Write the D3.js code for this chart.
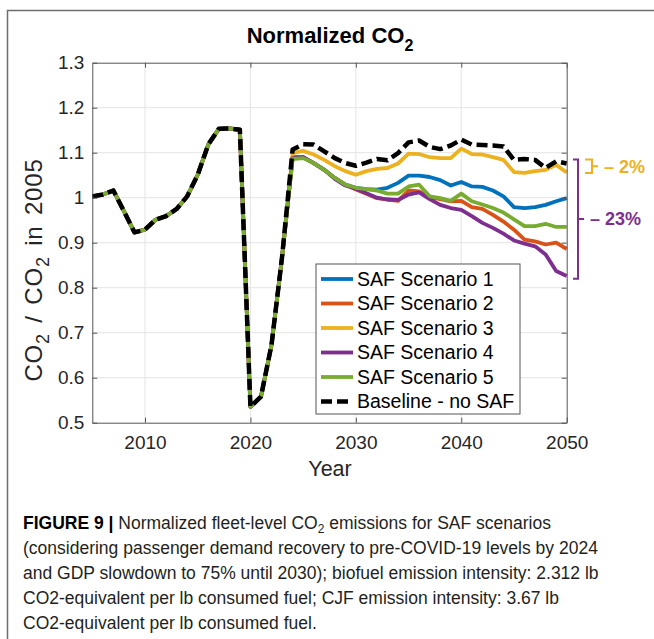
<!DOCTYPE html>
<html>
<head>
<meta charset="utf-8">
<script src="https://cdn.jsdelivr.net/npm/d3@7"></script>
<style>
  body { margin: 0; background: #fff; }
  svg { display: block; }
  text { font-family: "Liberation Sans", Arial, Helvetica, sans-serif; }
</style>
</head>
<body>
<svg width="654" height="639"></svg>
<script>
// shared history 2005-2023, identical for every scenario
const histYears = [2005, 2006, 2007, 2008, 2009, 2010, 2011, 2012, 2013, 2014,
  2015, 2016, 2017, 2018, 2019, 2020, 2021, 2022, 2023];
const history = [1.003, 1.007, 1.016, 0.970, 0.923, 0.929, 0.951, 0.959, 0.975, 1.003,
  1.051, 1.118, 1.153, 1.154, 1.151, 0.535, 0.558, 0.673, 0.868];

// projections 2024-2050
const projYears = [2024, 2025, 2026, 2027, 2028, 2029, 2030, 2031, 2032, 2033,
  2034, 2035, 2036, 2037, 2038, 2039, 2040, 2041, 2042, 2043,
  2044, 2045, 2046, 2047, 2048, 2049, 2050];
const scenario1 = [1.090, 1.090, 1.077, 1.062, 1.044, 1.029, 1.022, 1.019, 1.018, 1.022,
  1.033, 1.049, 1.049, 1.046, 1.039, 1.027, 1.035, 1.025, 1.024, 1.016,
  1.003, 0.979, 0.977, 0.979, 0.984, 0.992, 0.999];
const scenario2 = [1.090, 1.090, 1.077, 1.062, 1.044, 1.029, 1.018, 1.009, 0.999, 0.996,
  0.993, 1.016, 1.014, 1.001, 0.997, 0.992, 0.993, 0.979, 0.975, 0.962,
  0.947, 0.929, 0.907, 0.903, 0.896, 0.900, 0.886];
const scenario3 = [1.099, 1.104, 1.096, 1.084, 1.070, 1.059, 1.051, 1.059, 1.064, 1.066,
  1.076, 1.098, 1.097, 1.090, 1.088, 1.088, 1.109, 1.097, 1.096, 1.090,
  1.084, 1.057, 1.055, 1.059, 1.062, 1.073, 1.056];
const scenario4 = [1.088, 1.090, 1.077, 1.062, 1.042, 1.027, 1.020, 1.010, 1.000, 0.996,
  0.995, 1.007, 1.012, 0.997, 0.984, 0.977, 0.973, 0.959, 0.944, 0.933,
  0.920, 0.905, 0.898, 0.892, 0.874, 0.837, 0.826];
const scenario5 = [1.086, 1.088, 1.077, 1.062, 1.044, 1.029, 1.022, 1.019, 1.016, 1.009,
  1.009, 1.025, 1.029, 1.003, 0.999, 0.993, 1.009, 0.992, 0.985, 0.977,
  0.967, 0.952, 0.937, 0.937, 0.942, 0.935, 0.935];
const baseline = [1.107, 1.119, 1.118, 1.103, 1.088, 1.077, 1.071, 1.078, 1.086, 1.083,
  1.099, 1.123, 1.127, 1.113, 1.108, 1.116, 1.129, 1.118, 1.117, 1.116,
  1.114, 1.084, 1.086, 1.084, 1.066, 1.081, 1.076];

const seriesNames = ['SAF Scenario 1', 'SAF Scenario 2', 'SAF Scenario 3',
  'SAF Scenario 4', 'SAF Scenario 5', 'Baseline - no SAF'];
const seriesValues = [scenario1, scenario2, scenario3, scenario4, scenario5, baseline];
const seriesColors = ['#0072BD', '#D95319', '#EDB120', '#7E2F8E', '#77AC30', '#000000'];

const xTicks = [2010, 2020, 2030, 2040, 2050];
const yTicks = [0.5, 0.6, 0.7, 0.8, 0.9, 1, 1.1, 1.2, 1.3];

// reductions marked at the right edge
const notes = [
  { label: '\u2013 2%', top: 1.085, bottom: 1.055, color: '#EDB120' },
  { label: '\u2013 23%', top: 1.085, bottom: 0.82, color: '#7E2F8E' }
];

const captionLines = [
  [['b', 'FIGURE 9 | '], ['n', 'Normalized fleet-level CO'], ['s', '2'], ['n', ' emissions for SAF scenarios']],
  [['n', '(considering passenger demand recovery to pre-COVID-19 levels by 2024']],
  [['n', 'and GDP slowdown to 75% until 2030); biofuel emission intensity: 2.312 lb']],
  [['n', 'CO2-equivalent per lb consumed fuel; CJF emission intensity: 3.67 lb']],
  [['n', 'CO2-equivalent per lb consumed fuel.']]
];

const svg = d3.select('svg');

const x = d3.scaleLinear().domain([2005, 2050]).range([92.3, 566.7]);
const y = d3.scaleLinear().domain([0.5, 1.3]).range([422.7, 62.7]);

// figure frame (left and top rules)
svg.append('path')
  .attr('d', 'M7.5,639 V10.5 H654')
  .attr('fill', 'none')
  .attr('stroke', '#6e6e6e')
  .attr('stroke-width', 1.5);

// grid
const grid = svg.append('g').attr('class', 'grid');
grid.selectAll('line.gy')
  .data(yTicks.slice(1, -1))
  .enter().append('line')
  .attr('x1', x(2005)).attr('x2', x(2050))
  .attr('y1', d => y(d)).attr('y2', d => y(d))
  .attr('stroke', '#e4e4e4');
grid.selectAll('line.gx')
  .data(xTicks.slice(0, -1))
  .enter().append('line')
  .attr('y1', y(0.5)).attr('y2', y(1.3))
  .attr('x1', d => x(d)).attr('x2', d => x(d))
  .attr('stroke', '#e4e4e4');

// lines
const line = d3.line().x(d => x(d[0])).y(d => y(d[1]));
const fullSeries = seriesValues.map(vals =>
  histYears.map((yr, i) => [yr, history[i]]).concat(projYears.map((yr, i) => [yr, vals[i]])));

svg.append('g')
  .selectAll('path')
  .data(fullSeries)
  .enter().append('path')
  .attr('d', line)
  .attr('fill', 'none')
  .attr('stroke', (d, i) => seriesColors[i])
  .attr('stroke-width', (d, i) => i === 5 ? 4.5 : 3.8)
  .attr('stroke-dasharray', (d, i) => i === 5 ? '11,5' : null)
  .attr('stroke-linejoin', 'round');

// axes box with inward ticks
function styleAxis(g) {
  g.select('.domain').attr('stroke', '#555');
  g.selectAll('.tick line').attr('stroke', '#555');
  g.selectAll('.tick text')
    .attr('fill', '#262626')
    .style('font-size', '19px')
    .style('font-family', '"Liberation Sans", Arial, sans-serif');
}
svg.append('g')
  .attr('transform', `translate(${x(2005)},0)`)
  .call(d3.axisLeft(y).tickValues(yTicks).tickFormat(d3.format('')).tickSizeInner(-5).tickSizeOuter(0).tickPadding(8))
  .call(styleAxis);
svg.append('g')
  .attr('transform', `translate(${x(2050)},0)`)
  .call(d3.axisRight(y).tickValues(yTicks).tickFormat('').tickSizeInner(-5).tickSizeOuter(0))
  .call(styleAxis);
svg.append('g')
  .attr('transform', `translate(0,${y(0.5)})`)
  .call(d3.axisBottom(x).tickValues(xTicks).tickFormat(d3.format('d')).tickSizeInner(-5).tickSizeOuter(0).tickPadding(13))
  .call(styleAxis);
svg.append('g')
  .attr('transform', `translate(0,${y(1.3)})`)
  .call(d3.axisTop(x).tickValues(xTicks).tickFormat('').tickSizeInner(-5).tickSizeOuter(0))
  .call(styleAxis);

// title
const title = svg.append('text')
  .attr('x', 330).attr('y', 43)
  .attr('text-anchor', 'middle')
  .attr('font-weight', 'bold')
  .attr('font-size', 22)
  .attr('fill', '#000');
title.append('tspan').text('Normalized CO');
title.append('tspan').attr('font-size', 16).attr('dy', 8).text('2');

// axis labels
svg.append('text')
  .attr('x', 330).attr('y', 476)
  .attr('text-anchor', 'middle')
  .attr('font-size', 21.5)
  .attr('fill', '#262626')
  .text('Year');

const yLab = svg.append('text')
  .attr('transform', 'translate(42,270) rotate(-90)')
  .attr('text-anchor', 'middle')
  .attr('font-size', 24)
  .attr('letter-spacing', 0.8)
  .attr('word-spacing', 3)
  .attr('fill', '#262626');
yLab.append('tspan').text('CO');
yLab.append('tspan').attr('font-size', 18).attr('dy', 7).text('2');
yLab.append('tspan').attr('dy', -7).text(' / CO');
yLab.append('tspan').attr('font-size', 18).attr('dy', 7).text('2');
yLab.append('tspan').attr('dy', -7).text(' in 2005');

// legend
const legend = svg.append('g').attr('transform', 'translate(316,264)');
legend.append('rect')
  .attr('width', 204).attr('height', 150)
  .attr('fill', '#fff')
  .attr('stroke', '#555');
const item = legend.selectAll('g.item')
  .data(seriesNames)
  .enter().append('g')
  .attr('class', 'item')
  .attr('transform', (d, i) => `translate(0,${15 + i * 24.5})`);
item.append('line')
  .attr('x1', 5).attr('x2', 37)
  .attr('stroke', (d, i) => seriesColors[i])
  .attr('stroke-width', (d, i) => i === 5 ? 4.5 : 3.8)
  .attr('stroke-dasharray', (d, i) => i === 5 ? '11,5' : null);
item.append('text')
  .attr('x', 41).attr('dy', '0.35em')
  .attr('font-size', 19.5)
  .attr('fill', '#000')
  .text(d => d);

// reduction brackets
const note = svg.append('g');
notes.forEach((n, i) => {
  const bx = i === 0 ? 592 : 578;
  const arm = i === 0 ? 7 : 5;
  const mid = (y(n.top) + y(n.bottom)) / 2;
  note.append('path')
    .attr('d', `M${bx - arm},${y(n.top)} H${bx} V${y(n.bottom)} H${bx - arm} M${bx},${mid} H${bx + 6}`)
    .attr('fill', 'none')
    .attr('stroke', n.color)
    .attr('stroke-width', 2);
  note.append('text')
    .attr('x', bx + 12).attr('y', mid).attr('dy', '0.35em')
    .attr('font-size', 18)
    .attr('font-weight', 'bold')
    .attr('fill', n.color)
    .text(n.label);
});

// caption
const caption = svg.append('g').attr('font-size', 17.5).attr('fill', '#231f20');
captionLines.forEach((parts, i) => {
  const t = caption.append('text').attr('x', 23).attr('y', 529 + i * 25);
  let shifted = false;
  parts.forEach(([kind, str]) => {
    const s = t.append('tspan').text(str);
    if (kind === 'b') s.attr('font-weight', 'bold').attr('fill', '#000');
    if (kind === 's') { s.attr('font-size', 12).attr('dy', 4); shifted = true; }
    else if (shifted) { s.attr('dy', -4); shifted = false; }
  });
});
</script>
</body>
</html>
